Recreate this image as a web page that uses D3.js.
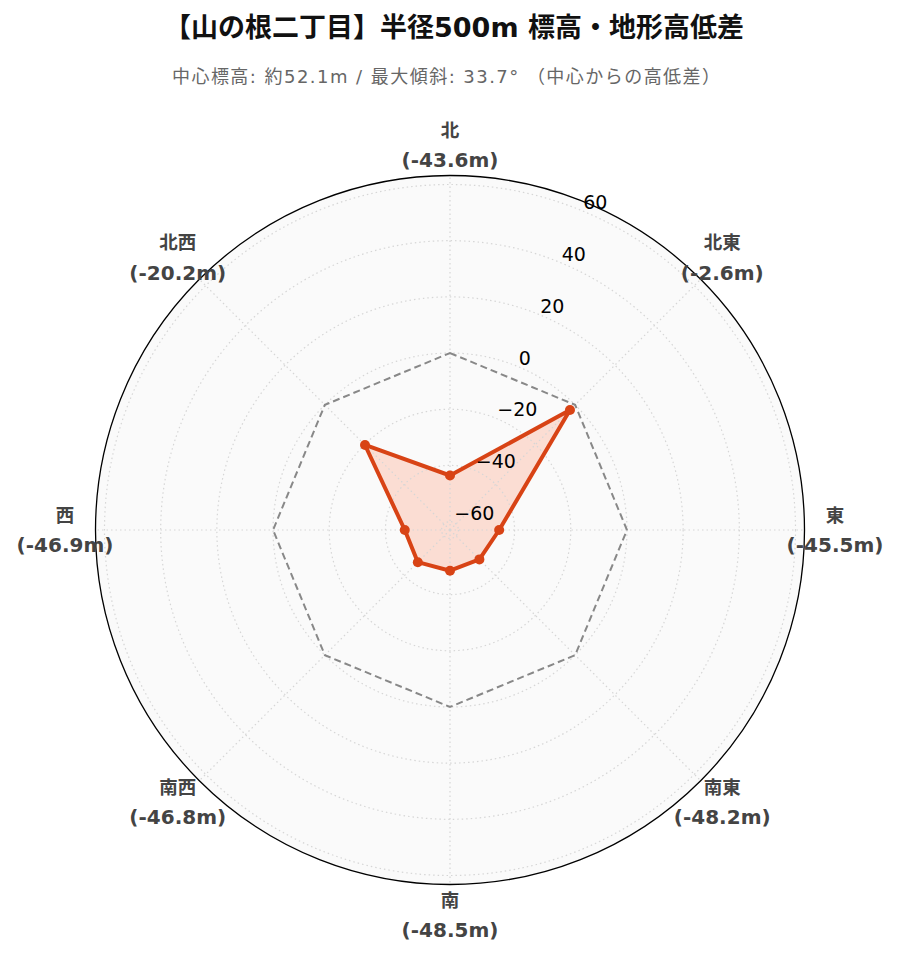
<!DOCTYPE html>
<html><head><meta charset="utf-8">
<script src="https://cdn.jsdelivr.net/npm/d3@7"></script>
<style>body{margin:0;background:#fff}</style>
</head><body>
<script>
const directions = ["北","北東","東","南東","南","南西","西","北西"];
const values = [-43.6, -2.6, -45.5, -48.2, -48.5, -46.8, -46.9, -20.2];
const radialTicks = [-60, -40, -20, 0, 20, 40, 60];
const referenceLevel = 0;
const titleText = "【山の根二丁目】半径500m 標高・地形高低差";
const subtitleText = "中心標高: 約52.1m / 最大傾斜: 33.7° （中心からの高低差）";

const W = 899, H = 962, cx = 450, cy = 530, R = 354.5;
const svg = d3.select("body").append("svg").attr("width", W).attr("height", H);
const r = d3.scaleLinear().domain([-63, 63.2]).range([0, R]);
const ang = d3.scaleBand().domain(directions).range([0, 2*Math.PI]).padding(0).align(0);
const a = d => ang(d);
const pt = (d, v) => [cx + r(v)*Math.sin(a(d)), cy - r(v)*Math.cos(a(d))];

svg.append("text").attr("x", 454).attr("y", 27).attr("text-anchor","middle")
  .attr("dominant-baseline","central")
  .style("font-family","'DejaVu Sans','Noto Sans CJK JP'").style("font-weight","bold").style("font-size","27px")
  .attr("fill","#111").text(titleText);
svg.append("text").attr("x", 446).attr("y", 76).attr("text-anchor","middle")
  .attr("dominant-baseline","central")
  .attr("textLength", 548).attr("lengthAdjust","spacing")
  .style("font-family","'DejaVu Sans','Noto Sans CJK JP'").style("font-size","18px")
  .attr("fill","#666").text(subtitleText);

const g = svg.append("g");
g.append("circle").attr("cx",cx).attr("cy",cy).attr("r",R).attr("fill","#fafafa");

const line = d3.lineRadial().angle((v,i)=>a(directions[i])).radius(v=>r(v)).curve(d3.curveLinearClosed);
g.append("path").attr("transform",`translate(${cx},${cy})`)
  .attr("d", line(values)).attr("fill","#ff5722").attr("fill-opacity",0.18).attr("stroke","none");

radialTicks.forEach(t => {
  g.append("circle").attr("cx",cx).attr("cy",cy).attr("r",r(t)).attr("fill","none")
   .attr("stroke","#d6d6d6").attr("stroke-width",1.2).attr("stroke-dasharray","1.5,3");
});
directions.forEach(d => {
  const [x,y] = pt(d, 63.2);
  g.append("line").attr("x1",cx).attr("y1",cy).attr("x2",x).attr("y2",y)
   .attr("stroke","#d6d6d6").attr("stroke-width",1.2).attr("stroke-dasharray","1.5,3");
});

g.append("path").attr("transform",`translate(${cx},${cy})`)
  .attr("d", line(directions.map(()=>referenceLevel)))
  .attr("fill","none").attr("stroke","#888").attr("stroke-width",2).attr("stroke-dasharray","7,4");
g.append("path").attr("transform",`translate(${cx},${cy})`)
  .attr("d", line(values)).attr("fill","none")
  .attr("stroke","#d84315").attr("stroke-width",4).attr("stroke-linejoin","round");
directions.forEach((d,i) => {
  const [x,y] = pt(d, values[i]);
  g.append("circle").attr("cx",x).attr("cy",y).attr("r",5).attr("fill","#d84315");
});

g.append("circle").attr("cx",cx).attr("cy",cy).attr("r",R).attr("fill","none")
  .attr("stroke","#000").attr("stroke-width",1.3);

const la = Math.PI/8;
radialTicks.forEach(t => {
  g.append("text").attr("x", cx + r(t)*Math.sin(la) + 1).attr("y", cy - r(t)*Math.cos(la) - 9)
   .attr("dominant-baseline","central").attr("text-anchor","start")
   .style("font-family","'DejaVu Sans'").style("font-size","19px").attr("fill","#000")
   .text(d3.format("d")(t).replace("-","\u2212"));
});

directions.forEach((d,i) => {
  const rr = 385;
  const x = cx + rr*Math.sin(a(d)), y = cy - rr*Math.cos(a(d));
  const t = g.append("text").attr("text-anchor","middle")
   .style("font-family","'DejaVu Sans','Noto Sans CJK JP'").style("font-weight","bold").style("font-size","20px")
   .attr("fill","#444");
  t.append("tspan").attr("x",x).attr("y",y-15).attr("dominant-baseline","central")
   .style("font-size","18.5px").text(d);
  t.append("tspan").attr("x",x).attr("y",y+15).attr("dominant-baseline","central").text(`(${values[i].toFixed(1)}m)`);
});
</script>
</body></html>
